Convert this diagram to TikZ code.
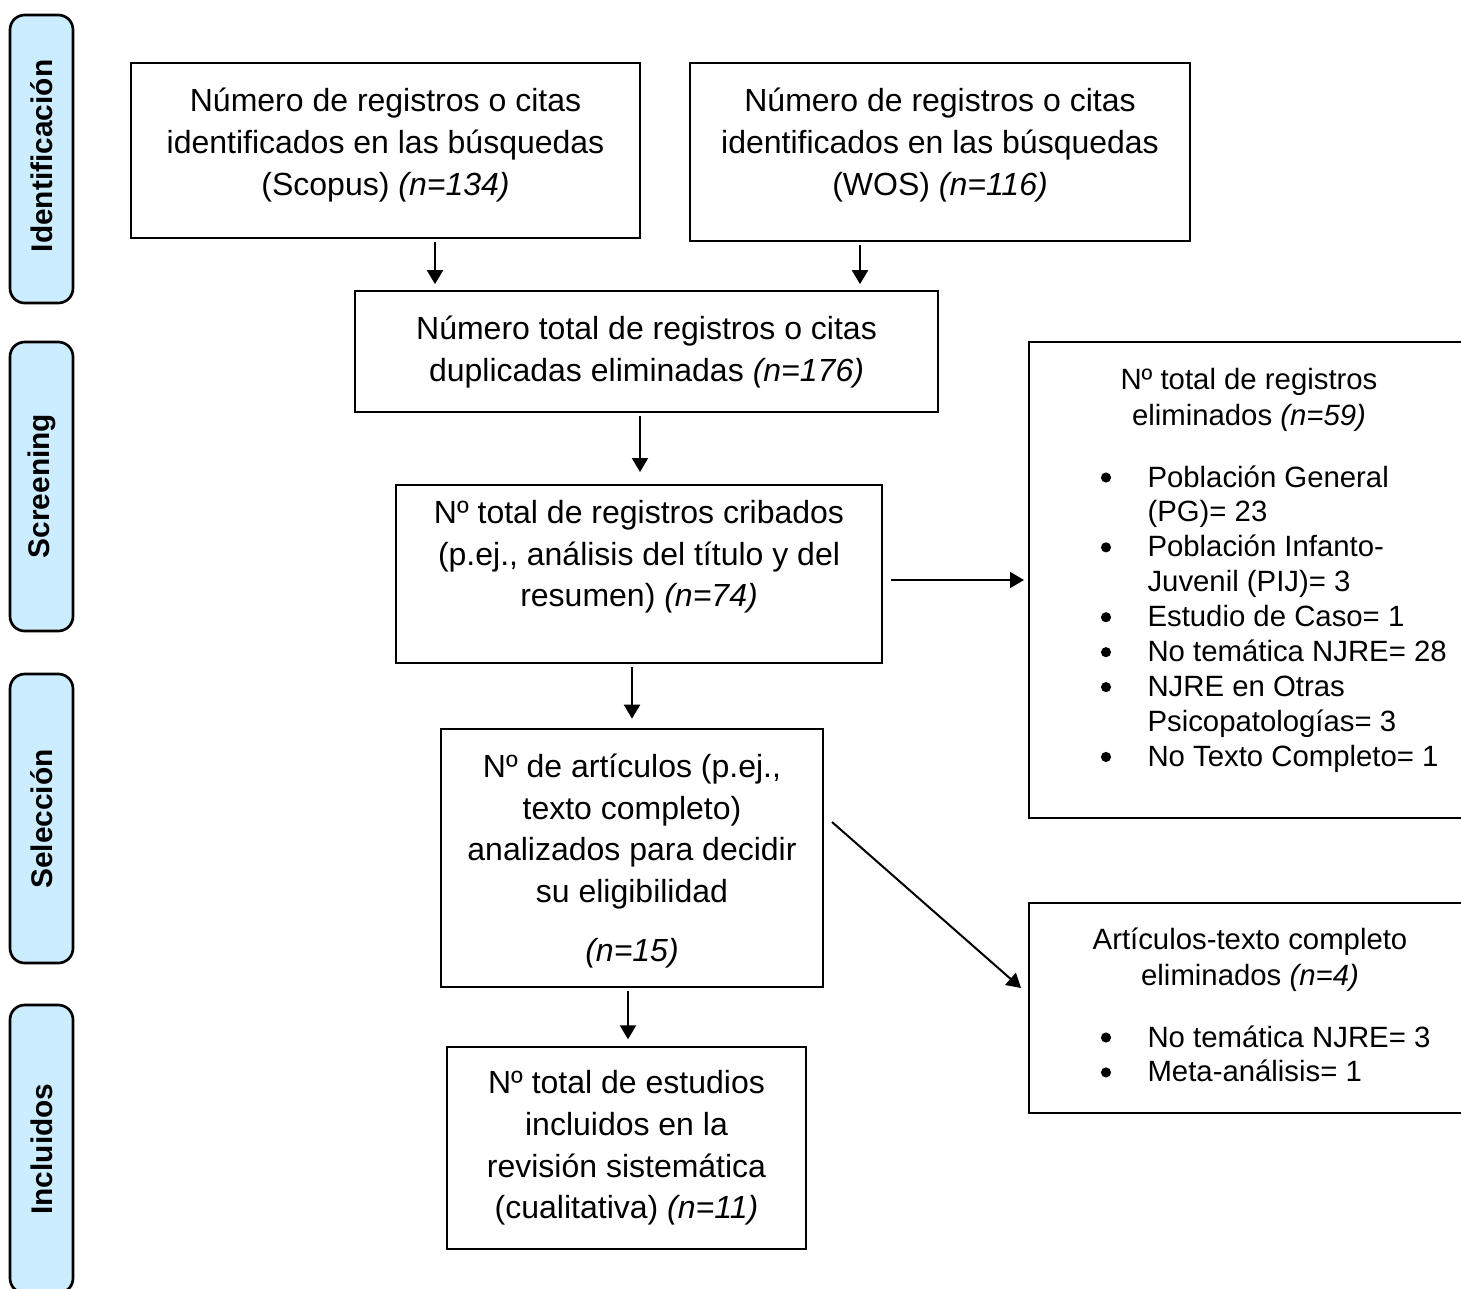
\documentclass[tikz,border=0pt]{standalone}
\usepackage{fontspec}
\setmainfont{Liberation Sans}
\usetikzlibrary{arrows.meta}
\definecolor{sidefill}{HTML}{CCECFF}
\newdimen\pxu
\pxu=0.375pt
\begin{document}
\begin{tikzpicture}[x=0.375pt,y=-0.375pt,
  box/.style 2 args={draw, line width=0.75pt, inner sep=0pt, minimum width=#1\pxu, minimum height=#2\pxu},
  sidebox/.style={draw, line width=1pt, fill=sidefill, rounded corners=5.5pt, inner sep=0pt, minimum width=63\pxu, minimum height=#1\pxu},
  maintext/.style={align=center, font=\fontsize{12}{15.6}\selectfont, inner sep=0pt},
  righttext/.style={align=center, font=\fontsize{11}{13.5}\selectfont, inner sep=0pt},
  listtext/.style={font=\fontsize{11}{13.1}\selectfont, inner sep=0pt},
  sidetext/.style={rotate=90, font=\fontsize{11.2}{13}\selectfont\bfseries, inner sep=0pt},
  arr/.style={line width=0.75pt, -{Triangle[length=5.25pt,width=6pt]}},
  bul/.style={fill=black},
  ]
\useasboundingbox (0,0) rectangle (1461,1288);
\clip (0,0) rectangle (1461,1288);

% side phase boxes
\node[sidebox=288] (s1) at (41.5,159) {};
\node[sidebox=289] (s2) at (41.5,486.5) {};
\node[sidebox=289] (s3) at (41.5,818.5) {};
\node[sidebox=288] (s4) at (41.5,1149) {};
\node[sidetext] (s1t) at (42,156) {Identificación};
\node[sidetext] (s2t) at (42,486) {Screening};
\node[sidetext] (s3t) at (42,819) {Selección};
\node[sidetext] (s4t) at (42,1149) {Incluidos};

% main boxes
\node[box={509}{175}] (scopus) at (385.5,150.5) {};
\node[box={500}{178}] (wos) at (940,152) {};
\node[box={583}{121}] (dup) at (646.5,351.5) {};
\node[box={486}{178}] (crib) at (639,574) {};
\node[box={382}{258}] (art) at (632,858) {};
\node[box={359}{202}] (inc) at (626.5,1148) {};
\node[box={440}{476}] (r1) at (1249,580) {};
\node[box={440}{210}] (r2) at (1249,1008) {};

% texts
\node[maintext] (scopust) at (385.5,145) {Número de registros o citas\\identificados en las búsquedas\\(Scopus) \textit{(n=134)}};
\node[maintext] (wost) at (940,145) {Número de registros o citas\\identificados en las búsquedas\\(WOS) \textit{(n=116)}};
\node[maintext] (dupt) at (646.5,352) {Número total de registros o citas\\duplicadas eliminadas \textit{(n=176)}};
\node[maintext] (cribt) at (639,557) {Nº total de registros cribados\\(p.ej., análisis del título y del\\resumen) \textit{(n=74)}};
\node[maintext] (artt) at (632,861) {Nº de artículos (p.ej.,\\texto completo)\\analizados para decidir\\su eligibilidad\\[6.4pt]\textit{(n=15)}};
\node[maintext] (inct) at (626.5,1148) {Nº total de estudios\\incluidos en la\\revisión sistemática\\(cualitativa) \textit{(n=11)}};

\node[righttext] (r1t) at (1249,400) {Nº total de registros\\eliminados \textit{(n=59)}};
\node[listtext, anchor=base west] (r1l) at (1147,487) {\begin{tabular}[t]{@{}l@{}}
Población General\\
(PG)= 23\\
Población Infanto-\\
Juvenil (PIJ)= 3\\
Estudio de Caso= 1\\
No temática NJRE= 28\\
NJRE en Otras\\
Psicopatologías= 3\\
No Texto Completo= 1
\end{tabular}};
\foreach \k in {0,2,4,5,6,8}
  \fill[bul] ([shift={(-41,\k*34.93-9.5)}]r1l.base west) circle (1.9pt);

\node[righttext] (r2t) at (1250,960) {Artículos-texto completo\\eliminados \textit{(n=4)}};
\node[listtext, anchor=base west] (r2l) at (1147,1047) {\begin{tabular}[t]{@{}l@{}}
No temática NJRE= 3\\
Meta-análisis= 1
\end{tabular}};
\foreach \k in {0,1}
  \fill[bul] ([shift={(-41,\k*34.93-9.5)}]r2l.base west) circle (1.9pt);

% arrow x positions
\coordinate (ax1) at (435,0);
\coordinate (ax2) at (860,0);
\coordinate (ax3) at (640,0);
\coordinate (ax4) at (632,0);
\coordinate (ax5) at (628,0);

\draw[arr, shorten <=1.2pt, shorten >=2.2pt] (scopus.south -| ax1) -- (dup.north -| ax1);
\draw[arr, shorten <=1.2pt, shorten >=2.2pt] (wos.south -| ax2) -- (dup.north -| ax2);
\draw[arr, shorten <=1.2pt, shorten >=4.5pt] (dup.south -| ax3) -- (crib.north -| ax3);
\draw[arr, shorten <=1.2pt, shorten >=3.5pt] (crib.south -| ax4) -- (art.north -| ax4);
\draw[arr, shorten <=1.2pt, shorten >=2.5pt] (art.south -| ax5) -- (inc.north -| ax5);
\draw[arr, shorten <=3pt, shorten >=1.5pt] (crib.east |- r1.west) -- (r1.west);
\draw[arr] ([shift={(8,-36)}]art.east) -- ([shift={(-7,-20)}]r2.west);
\end{tikzpicture}
\end{document}
